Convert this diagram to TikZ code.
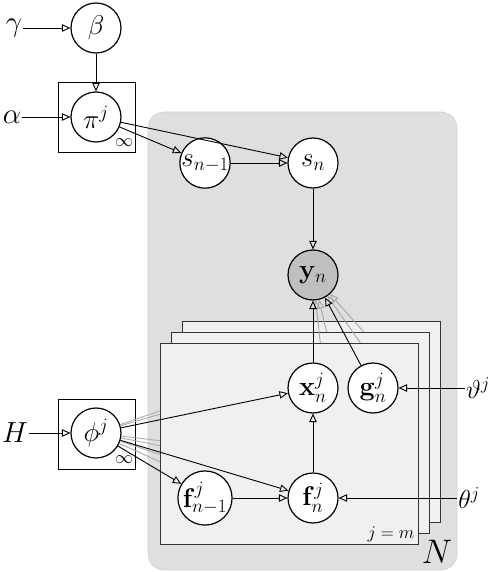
\RequirePackage{fix-cm}
\documentclass[tikz,border=0pt]{standalone}
\usetikzlibrary{arrows.meta}
\begin{document}
\begin{tikzpicture}[x=1pt,y=-1pt,
  var/.style={circle, draw, line width=1.2pt, minimum size=50pt, inner sep=0pt, fill=white, font=\fontsize{27}{31}\selectfont},
  obs/.style={var, fill=gray!50},
  lbl/.style={font=\fontsize{29}{33}\selectfont, inner sep=1pt},
  lbls/.style={font=\fontsize{26}{30}\selectfont, inner sep=1pt},
  edge/.style={-{Triangle[open,length=8.5pt,width=7.5pt]}, line width=0.9pt},
  ghost/.style={edge, draw=gray!70},
  ghostline/.style={line width=0.9pt, draw=gray!65},
  platebox/.style={draw=black!80, line width=1pt, fill=gray!12},
  hyperbox/.style={draw, line width=0.9pt, fill=white, minimum width=77pt, minimum height=70pt, inner sep=0pt},
  inflbl/.style={font=\fontsize{18}{22}\selectfont, inner sep=0pt}
]
\useasboundingbox (0,0) rectangle (490,572);
% outer region N
\path[fill=gray!25, draw=gray!35, line width=0.6pt, rounded corners=16pt] (148,112) rectangle (457,570);

% hyperparameter boxes
\node[hyperbox] (pibox) at (96.5,117) {};
\node[inflbl] (piinf) at (124,143) {$\infty$};
\node[hyperbox] (phibox) at (96.5,434) {};
\node[inflbl] (phiinf) at (124,460) {$\infty$};

% upper nodes
\node[var] (beta) at (96,28) {$\beta$};
\node[var] (pi) at (96,117) {$\pi^j$};
\node[var] (phi) at (96,433) {$\phi^j$};
\node[var] (s1) at (205,163) {$s_{n-1}$};
\node[var] (s2) at (313,163) {$s_n$};
\node[obs] (y) at (313,275) {$\mathbf{y}_n$};

\node[lbl] (gamma) at (14,28) {$\gamma$};
\node[lbl] (alpha) at (12,117) {$\alpha$};
\node[lbl] (H) at (15,433) {$H$};

\draw[edge] (gamma) -- (beta);
\draw[edge] (beta) -- (pi);
\draw[edge] (alpha) -- (pi);
\draw[edge] (pi) -- (s1);
\draw[edge] (pi) -- (s2);
\draw[edge] (s1) -- (s2);
\draw[edge] (s2) -- (y);
\draw[edge] (H) -- (phi);

% copies in back plates
\coordinate (xc1) at (324,366);
\coordinate (xc2) at (335,350);
\coordinate (xs1) at (324,377);
\coordinate (xs2) at (335,367);
\coordinate (gc1) at (384,377);
\coordinate (gc2) at (395,367);
\coordinate (fc1) at (324,478);
\coordinate (fc2) at (335,462);
\coordinate (fpc1) at (216,487);
\coordinate (fpc2) at (227,477);

% plate 3 (back)
\path[platebox] (182,321) rectangle (440,522);
\draw[ghostline] (phi) -- (xc2);
\draw[ghostline] (phi) -- (fc2);
\draw[ghostline] (phi) -- (fpc2);
\draw[ghost] (xs2) -- (y);
\draw[ghost] (gc2) -- (y);

% plate 2
\path[platebox] (171,332) rectangle (429,533);
\draw[ghostline] (phi) -- (xc1);
\draw[ghostline] (phi) -- (fc1);
\draw[ghostline] (phi) -- (fpc1);
\draw[ghost] (xs1) -- (y);
\draw[ghost] (gc1) -- (y);

% plate 1 (front)
\path[platebox] (160,343) rectangle (418,544);
\node[font=\fontsize{18}{20}\selectfont, inner sep=1pt] (jm) at (391,534) {$j=m$};

\node[var] (x) at (313,388) {$\mathbf{x}_n^j$};
\node[var] (g) at (373,388) {$\mathbf{g}_n^j$};
\node[var] (fn) at (313,498) {$\mathbf{f}_n^j$};
\node[var] (fp) at (205,498) {$\mathbf{f}_{n-1}^j$};

\node[lbls] (vth) at (478,388) {$\vartheta^j$};
\node[lbls] (th) at (469,498) {$\theta^j$};
\node[font=\fontsize{34}{38}\selectfont, inner sep=0pt] (N) at (437,552) {$N$};

\draw[edge] (phi) -- (x);
\draw[edge] (phi) -- (fn);
\draw[edge] (phi) -- (fp);
\draw[edge] (fp) -- (fn);
\draw[edge] (fn) -- (x);
\draw[edge] (x) -- (y);
\draw[edge] (g) -- (y);
\draw[edge] (th) -- (fn);
\draw[edge] (vth) -- (g);
\end{tikzpicture}
\end{document}
